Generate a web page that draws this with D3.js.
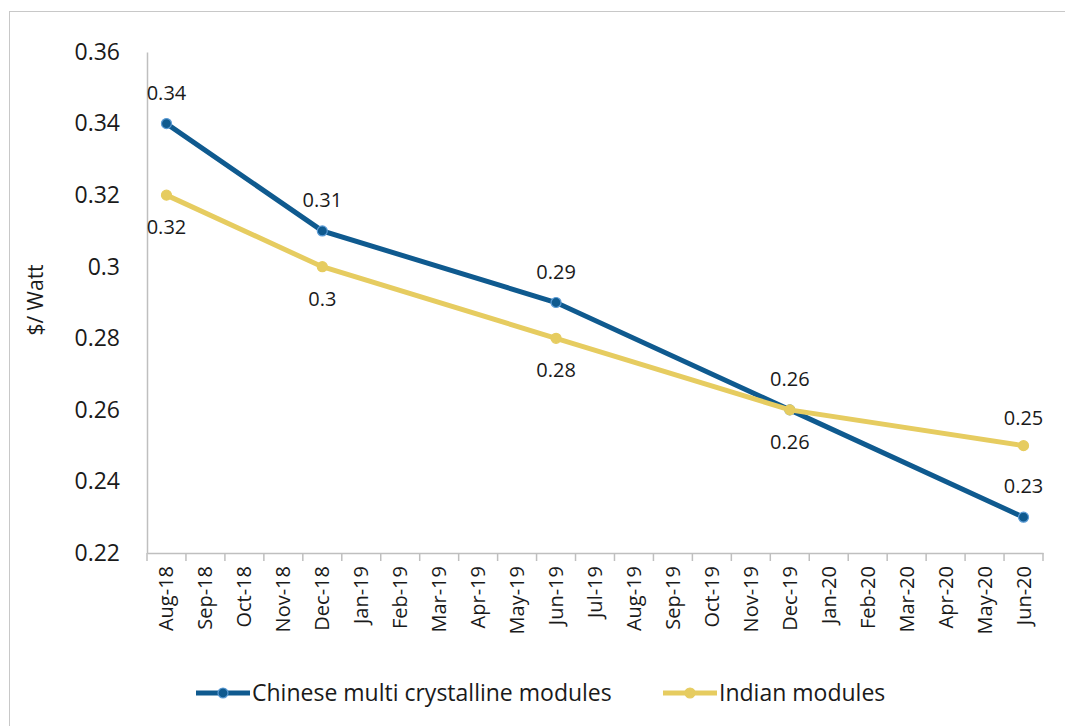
<!DOCTYPE html>
<html>
<head>
<meta charset="utf-8">
<script src="https://cdn.jsdelivr.net/npm/d3@7"></script>
<style>
  body { margin: 0; background: #fff; }
  text { font-family: "Open Sans", "Liberation Sans", sans-serif; fill: #1a1a1a; }
</style>
</head>
<body>
<div id="chart"></div>
<script>
// data
var months = ["Aug-18", "Sep-18", "Oct-18", "Nov-18", "Dec-18", "Jan-19", "Feb-19", "Mar-19",
  "Apr-19", "May-19", "Jun-19", "Jul-19", "Aug-19", "Sep-19", "Oct-19", "Nov-19", "Dec-19",
  "Jan-20", "Feb-20", "Mar-20", "Apr-20", "May-20", "Jun-20"];
var pointMonths = ["Aug-18", "Dec-18", "Jun-19", "Dec-19", "Jun-20"];
var chineseValues = [0.34, 0.31, 0.29, 0.26, 0.23];
var indianValues = [0.32, 0.30, 0.28, 0.26, 0.25];
var yTicks = [0.22, 0.24, 0.26, 0.28, 0.3, 0.32, 0.34, 0.36];

var width = 1065;
var height = 726;

var svg = d3.select("#chart").append("svg")
  .attr("width", width)
  .attr("height", height);

// outer frame
svg.append("rect")
  .attr("x", 9.5).attr("y", 11.5)
  .attr("width", 1070).attr("height", 730)
  .attr("fill", "none")
  .attr("stroke", "#c8c8c8")
  .attr("stroke-width", 1);

var margin = { top: 52, left: 147, right: 1043, bottom: 553 };

var x = d3.scaleBand()
  .domain(months)
  .range([margin.left, margin.right]);

var y = d3.scaleLinear()
  .domain([0.22, 0.36])
  .range([margin.bottom, margin.top]);

// y axis
var yAxis = svg.append("g")
  .attr("transform", "translate(" + margin.left + ",0)")
  .call(d3.axisLeft(y).tickValues(yTicks).tickSize(0).tickPadding(27).tickFormat(function (d) { return +d.toFixed(2); }));
yAxis.select(".domain").attr("stroke", "#bfbfbf").attr("stroke-width", 1.5);
yAxis.selectAll("text").style("font-size", "23px").attr("fill", "#1a1a1a");

// x axis
var xAxis = svg.append("g")
  .attr("transform", "translate(0," + margin.bottom + ")")
  .call(d3.axisBottom(x).tickSize(0).tickSizeOuter(0));
xAxis.select(".domain").attr("stroke", "#bfbfbf").attr("stroke-width", 1.5);
xAxis.selectAll(".tick line").remove();
xAxis.selectAll(".tick text")
  .attr("transform", "rotate(-90)")
  .attr("x", -13).attr("y", 0).attr("dy", "0.35em")
  .attr("text-anchor", "end")
  .style("font-size", "20px");

// category boundary ticks
var bounds = months.map(function (m) { return x(m); }).concat([x(months[months.length - 1]) + x.bandwidth()]);
svg.append("g").selectAll("line")
  .data(bounds)
  .join("line")
  .attr("x1", function (d) { return d; })
  .attr("x2", function (d) { return d; })
  .attr("y1", margin.bottom)
  .attr("y2", margin.bottom + 8)
  .attr("stroke", "#bfbfbf")
  .attr("stroke-width", 1.5);

// y title
svg.append("text")
  .attr("transform", "translate(43,300) rotate(-90)")
  .attr("text-anchor", "middle")
  .style("font-size", "21px")
  .text("$/ Watt");

var cx = function (d) { return x(d.m) + x.bandwidth() / 2; };
var line = d3.line().x(cx).y(function (d) { return y(d.v); });

var series = [
  { name: "Chinese multi crystalline modules", color: "#0f5a8f", stroke: "#5b9bd5", values: chineseValues, labelDy: [-24, -24, -24, -24, -24] },
  { name: "Indian modules", color: "#e6cc60", stroke: "#e6cc60", values: indianValues, labelDy: [39, 39, 39, 39, -21] }
];

series.forEach(function (s) {
  var pts = pointMonths.map(function (m, i) { return { m: m, v: s.values[i] }; });
  svg.append("path")
    .datum(pts)
    .attr("fill", "none")
    .attr("stroke", s.color)
    .attr("stroke-width", 5)
    .attr("d", line);
  svg.append("g").selectAll("circle")
    .data(pts)
    .join("circle")
    .attr("cx", cx)
    .attr("cy", function (d) { return y(d.v); })
    .attr("r", 5)
    .attr("fill", s.color)
    .attr("stroke", s.stroke)
    .attr("stroke-width", 1.2);
});

series.forEach(function (s) {
  var pts = pointMonths.map(function (m, i) { return { m: m, v: s.values[i], dy: s.labelDy[i] }; });
  svg.append("g").selectAll("text")
    .data(pts)
    .join("text")
    .attr("x", cx)
    .attr("y", function (d) { return y(d.v) + d.dy; })
    .attr("text-anchor", "middle")
    .style("font-size", "20px")
    .text(function (d) { return +d.v.toFixed(2); });
});

// legend
var legend = svg.append("g").attr("transform", "translate(0,693)");
var legendX = [196, 663];
series.forEach(function (s, i) {
  var g = legend.append("g").attr("transform", "translate(" + legendX[i] + ",0)");
  g.append("line").attr("x1", 0).attr("x2", 54).attr("y1", 0).attr("y2", 0)
    .attr("stroke", s.color).attr("stroke-width", 5);
  g.append("circle").attr("cx", 27).attr("cy", 0).attr("r", 5)
    .attr("fill", s.color).attr("stroke", s.stroke).attr("stroke-width", 1.2);
  g.append("text").attr("x", 56).attr("y", 0).attr("dy", "0.35em")
    .style("font-size", "23px")
    .text(s.name);
});
</script>
</body>
</html>
